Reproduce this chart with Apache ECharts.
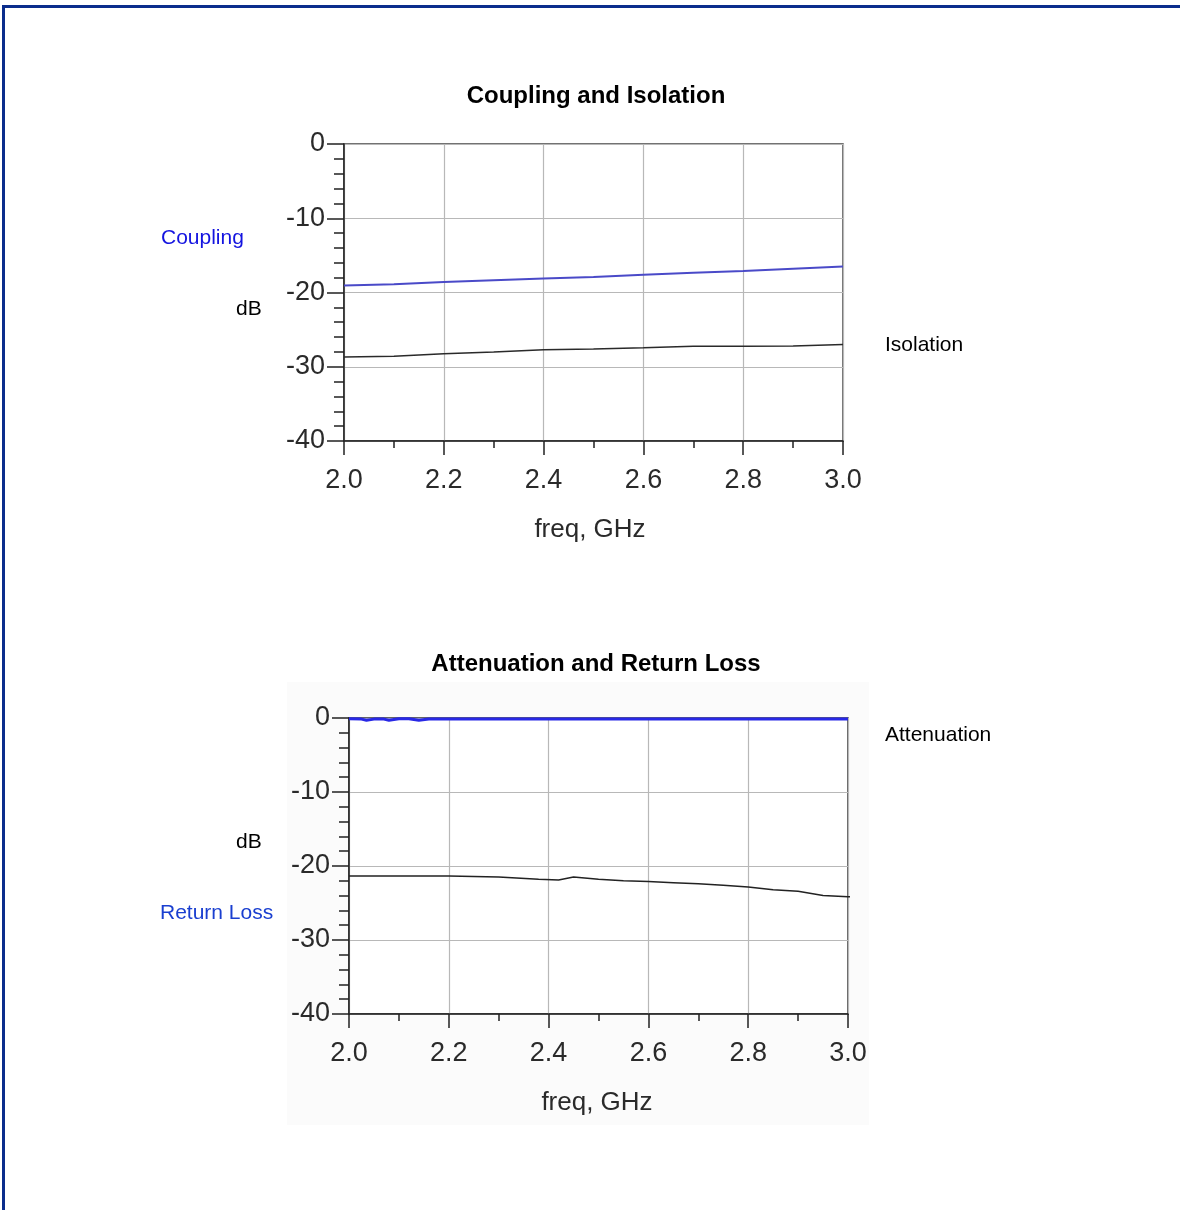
<!DOCTYPE html>
<html>
<head>
<meta charset="utf-8">
<script src="https://cdn.jsdelivr.net/npm/echarts@6/dist/echarts.min.js"></script>
<style>
html,body{margin:0;padding:0;background:#fff;}
#c{width:1180px;height:1210px;}
</style>
</head>
<body>
<div id="c"></div>
<script>
// ---- data ----
var xTicks = [2.0, 2.2, 2.4, 2.6, 2.8, 3.0];
var yTicks = [0, -10, -20, -30, -40];

var freqTop = [2.0, 2.1, 2.2, 2.3, 2.4, 2.5, 2.6, 2.7, 2.8, 2.9, 3.0];
var coupling = [-19.05, -18.9, -18.6, -18.35, -18.1, -17.9, -17.6, -17.35, -17.1, -16.8, -16.5];
var isolation = [-28.7, -28.6, -28.25, -28.0, -27.7, -27.6, -27.45, -27.25, -27.25, -27.2, -27.0];

var freqAtt = [2.0, 2.025, 2.035, 2.05, 2.07, 2.08, 2.1, 2.12, 2.14, 2.16, 2.2, 2.4, 2.6, 2.8, 3.0];
var attenuation = [-0.1, -0.15, -0.3, -0.15, -0.15, -0.3, -0.1, -0.1, -0.3, -0.15, -0.15, -0.15, -0.15, -0.15, -0.15];

var freqRL = [2.0, 2.1, 2.2, 2.3, 2.38, 2.42, 2.45, 2.5, 2.55, 2.6, 2.65, 2.7, 2.75, 2.8, 2.85, 2.9, 2.95, 3.0, 3.01];
var returnLoss = [-21.35, -21.35, -21.35, -21.5, -21.8, -21.9, -21.5, -21.8, -22.0, -22.1, -22.25, -22.4, -22.6, -22.85, -23.2, -23.4, -24.0, -24.15, -24.2];

function pairs(xs, ys) { return xs.map(function (x, i) { return [x, ys[i]]; }); }

var FONT = '"Liberation Sans", Arial, sans-serif';

function xAxisCfg(gi) {
  return {
    gridIndex: gi, type: 'value', min: xTicks[0], max: xTicks[xTicks.length - 1], interval: 0.2,
    axisLine: { show: true, onZero: false, lineStyle: { color: '#222', width: 1.5 } },
    axisTick: { show: true, inside: false, length: 14, lineStyle: { color: '#222', width: 1.5 } },
    minorTick: { show: true, splitNumber: 2, length: 7, lineStyle: { color: '#222', width: 1.5 } },
    axisLabel: { margin: 26, fontSize: 27, color: '#2a2a2a', fontFamily: FONT,
      formatter: function (v) { return v.toFixed(1); } },
    splitLine: { show: true, lineStyle: { color: '#b8b8b8', width: 1.2 } }
  };
}
function yAxisCfg(gi) {
  return {
    gridIndex: gi, type: 'value', min: yTicks[yTicks.length - 1], max: yTicks[0], interval: 10,
    axisLine: { show: true, onZero: false, lineStyle: { color: '#222', width: 1.5 } },
    axisTick: { show: true, inside: false, length: 17, lineStyle: { color: '#222', width: 1.5 } },
    minorTick: { show: true, splitNumber: 5, length: 10, lineStyle: { color: '#222', width: 1.5 } },
    axisLabel: { margin: 19, fontSize: 27, color: '#2a2a2a', fontFamily: FONT },
    splitLine: { show: true, lineStyle: { color: '#b8b8b8', width: 1.2 } }
  };
}

function txt(x, y, s, opt) {
  opt = opt || {};
  return {
    type: 'text', x: x, y: y, z: 100,
    style: {
      text: s, fontSize: opt.size || 21, fontFamily: FONT, fontWeight: opt.weight || 'normal',
      fill: opt.color || '#000', textAlign: opt.align || 'left', textVerticalAlign: 'middle'
    }
  };
}

var chart = echarts.init(document.getElementById('c'), null, { renderer: 'canvas' });
chart.setOption({
  backgroundColor: '#ffffff',
  animation: false,
  grid: [
    { left: 344, top: 144, width: 499, height: 297, show: true, borderColor: '#444', borderWidth: 1.5, backgroundColor: '#fff' },
    { left: 349, top: 718, width: 499, height: 296, show: true, borderColor: '#333', borderWidth: 1.5, backgroundColor: '#fff' }
  ],
  xAxis: [xAxisCfg(0), xAxisCfg(1)],
  yAxis: [yAxisCfg(0), yAxisCfg(1)],
  series: [
    { name: 'Coupling', type: 'line', xAxisIndex: 0, yAxisIndex: 0, data: pairs(freqTop, coupling),
      showSymbol: false, lineStyle: { color: '#4a4ac8', width: 2 }, z: 5 },
    { name: 'Isolation', type: 'line', xAxisIndex: 0, yAxisIndex: 0, data: pairs(freqTop, isolation),
      showSymbol: false, lineStyle: { color: '#2a2a2a', width: 1.5 }, z: 5 },
    { name: 'Attenuation', type: 'line', xAxisIndex: 1, yAxisIndex: 1, data: pairs(freqAtt, attenuation),
      showSymbol: false, lineStyle: { color: '#2828e6', width: 3 }, z: 5, clip: false },
    { name: 'Return Loss', type: 'line', xAxisIndex: 1, yAxisIndex: 1, data: pairs(freqRL, returnLoss),
      showSymbol: false, lineStyle: { color: '#222', width: 1.5 }, z: 5, clip: false }
  ],
  graphic: [
    // page frame
    { type: 'rect', shape: { x: 2, y: 5, width: 1178, height: 3 }, style: { fill: '#0b2d8c' }, z: 0 },
    { type: 'rect', shape: { x: 2, y: 5, width: 3, height: 1205 }, style: { fill: '#0b2d8c' }, z: 0 },
    // faint panel behind lower chart
    { type: 'rect', shape: { x: 287, y: 682, width: 582, height: 443 }, style: { fill: '#fbfbfb' }, z: -10, silent: true },
    // titles
    txt(596, 96, 'Coupling and Isolation', { size: 24, weight: 'bold', align: 'center' }),
    txt(596, 664, 'Attenuation and Return Loss', { size: 24, weight: 'bold', align: 'center' }),
    // side labels top
    txt(161, 238, 'Coupling', { color: '#1414e0' }),
    txt(236, 309, 'dB'),
    txt(885, 345, 'Isolation'),
    txt(590, 530, 'freq, GHz', { size: 26, color: '#2a2a2a', align: 'center' }),
    // side labels bottom
    txt(885, 735, 'Attenuation'),
    txt(236, 842, 'dB'),
    txt(160, 913, 'Return Loss', { color: '#1a3fd0' }),
    txt(597, 1103, 'freq, GHz', { size: 26, color: '#2a2a2a', align: 'center' })
  ]
});
</script>
</body>
</html>
